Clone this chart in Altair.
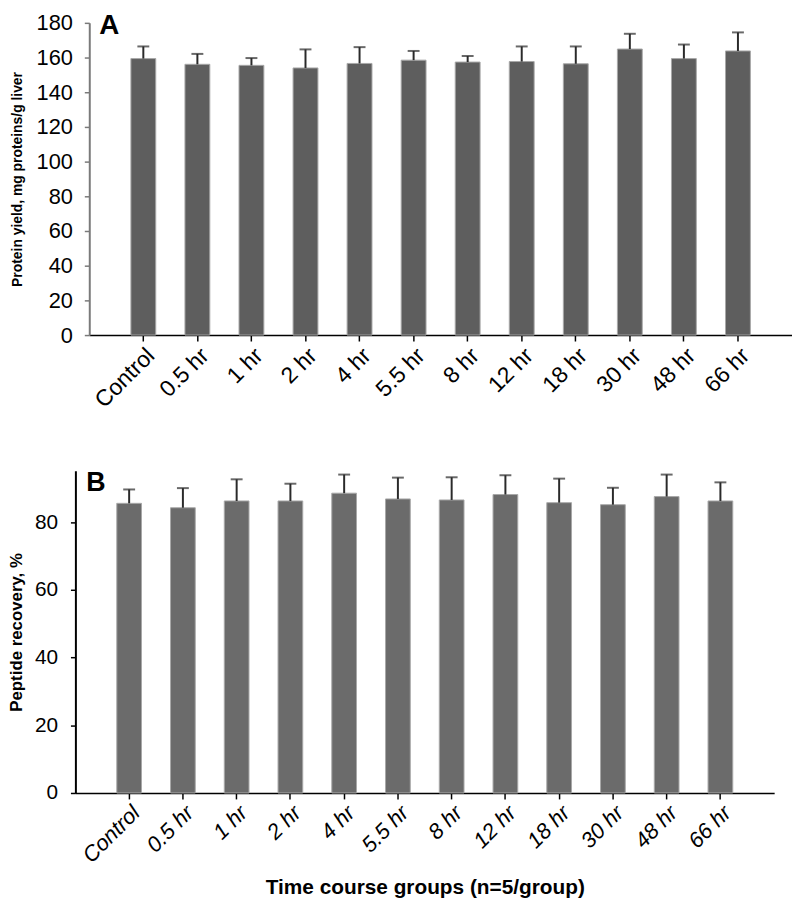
import altair as alt
import pandas as pd

groups = ["Control", "0.5 hr", "1 hr", "2 hr", "4 hr", "5.5 hr", "8 hr",
          "12 hr", "18 hr", "30 hr", "48 hr", "66 hr"]

protein_mean = [159.4, 156.1, 155.5, 154.0, 156.6, 158.5, 157.4, 157.7, 156.4, 164.9, 159.4, 163.8]
protein_sd = [7.0, 6.0, 4.2, 10.7, 9.4, 5.3, 3.5, 8.7, 10.0, 8.8, 8.1, 10.7]

peptide_mean = [85.6, 84.3, 86.3, 86.3, 88.6, 86.9, 86.6, 88.2, 85.8, 85.2, 87.6, 86.3]
peptide_sd = [4.1, 5.8, 6.4, 5.1, 5.5, 6.3, 6.7, 5.7, 7.1, 5.0, 6.5, 5.5]

FONT = "Liberation Sans"

dfA = pd.DataFrame({"group": groups, "mean": protein_mean, "sd": protein_sd})
dfA["upper"] = dfA["mean"] + dfA["sd"]
dfB = pd.DataFrame({"group": groups, "mean": peptide_mean, "sd": peptide_sd})
dfB["upper"] = dfB["mean"] + dfB["sd"]


def panel(df, width, height, xrange, yoffset, ydomain, yvalues, ytitle,
          ytitle_size, ytitle_x, ycolor, ylabel_size, ylabel_pad, fill,
          letter, letter_size, letter_x, letter_y, label_style, label_size,
          xtitle=None):
    xaxis_kwargs = dict(
        labelAngle=-45, labelFontSize=label_size, labelFont=FONT,
        labelFontStyle=label_style, labelColor="black", labelPadding=3,
        labelOverlap=False,
        domainColor="black", domainWidth=1.5, tickColor="black",
        tickSize=6, tickWidth=1.5,
    )
    if xtitle is not None:
        xaxis_kwargs.update(
            title=xtitle, titleFont=FONT, titleFontSize=21,
            titleFontWeight="bold", titleColor="black",
            titleBaseline="middle", titleY=95,
        )
    else:
        xaxis_kwargs.update(title=None)
    xscale = alt.Scale(paddingInner=0.54, paddingOuter=0.77, range=xrange)
    xaxis = alt.Axis(**xaxis_kwargs)
    yscale = alt.Scale(domain=ydomain, nice=False, zero=True)
    yaxis = alt.Axis(
        values=yvalues, title=ytitle, titleFont=FONT,
        titleFontSize=ytitle_size, titleFontWeight="bold",
        titleColor="black", titleX=ytitle_x, titleBaseline="middle",
        labelFont=FONT, labelFontSize=ylabel_size, labelColor="black",
        labelPadding=ylabel_pad, labelOverlap=False, offset=yoffset,
        domainColor=ycolor, domainWidth=2,
        tickColor=ycolor, tickSize=5, tickWidth=1.5, grid=False,
    )
    x = alt.X("group:N", sort=groups, scale=xscale, axis=xaxis)
    bars = alt.Chart(df).mark_bar(
        fill=fill, stroke="#a8a8a8", strokeWidth=1
    ).encode(x=x, y=alt.Y("mean:Q", scale=yscale, axis=yaxis))
    err = alt.Chart(df).mark_rule(color="#2a2a2a", strokeWidth=2).encode(
        x=x,
        y=alt.Y("mean:Q", scale=yscale, axis=yaxis),
        y2=alt.Y2("upper:Q"),
    )
    cap = alt.Chart(df).mark_tick(
        color="#2a2a2a", size=12, thickness=2
    ).encode(
        x=x,
        y=alt.Y("upper:Q", scale=yscale, axis=yaxis),
    )
    lab = alt.Chart(pd.DataFrame({"t": [letter]})).mark_text(
        font=FONT, fontSize=letter_size, fontWeight="bold", color="black",
        align="left", baseline="alphabetic",
    ).encode(text="t:N", x=alt.value(letter_x), y=alt.value(letter_y))
    return alt.layer(bars, err, cap, lab).properties(width=width, height=height)


A = panel(dfA, 709, 315, [0, 709], 0, [0, 180], list(range(0, 181, 20)),
          "Protein yield, mg proteins/g liver", 14, -72, "#7a7a7a", 22, 12,
          "#5e5e5e", "A", 28, 10, 11, "normal", 23)

B = panel(dfB, 690, 325, [-14, 691], 14, [0, 95.2], [0, 20, 40, 60, 80],
          "Peptide recovery, %", 17, -59, "black", 21, 13,
          "#6b6b6b", "B", 27, -3, 20, "italic", 22,
          xtitle="Time course groups (n=5/group)")

chart = alt.concat(A, B, columns=1, spacing=57, align="none").properties(
    padding={"left": 0, "top": 0, "right": 0, "bottom": 0}
).configure(
    font=FONT,
    view=alt.ViewConfig(stroke=None),
    axis=alt.AxisConfig(labelOverlap=False),
)

chart.save("out.html", embed_options={"renderer": "svg", "actions": False})
